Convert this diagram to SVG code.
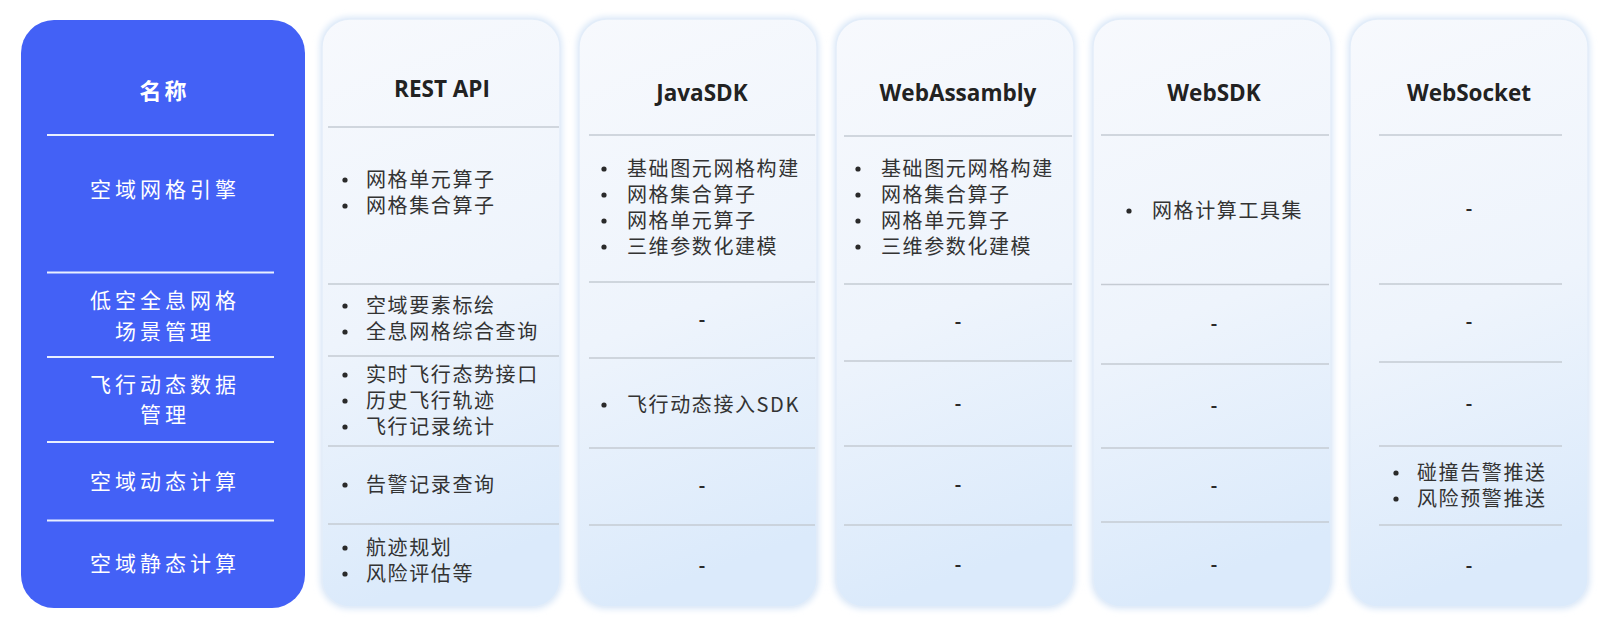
<svg xmlns="http://www.w3.org/2000/svg" width="1620" height="623" viewBox="0 0 1620 623">
<style>
.bg{fill:#ffffff}
.blue{fill:#4361f6}
.panel{fill:url(#pg);stroke:#e3edf9;stroke-width:1.5}
.glow{fill:#d9e7f8;filter:url(#blur)}
.wl{stroke:#e9efff;stroke-width:2.2}
.gl{stroke:#c5cbd3;stroke-width:1.6}
.name{font-family:"Noto Sans CJK SC","Noto Sans",sans-serif;font-size:21px;fill:#ffffff;letter-spacing:4px;text-anchor:middle}
.nameh{font-family:"Noto Sans CJK SC","Noto Sans",sans-serif;font-size:22px;font-weight:bold;fill:#ffffff;letter-spacing:3px;text-anchor:middle}
.hd{font-family:"Open Sans","Liberation Sans",sans-serif;font-size:22.5px;font-weight:bold;fill:#222222;text-anchor:middle}
.tx{font-family:"Noto Sans CJK SC","Noto Sans",sans-serif;font-size:20px;fill:#333333;letter-spacing:1.6px}
.dash{font-family:"Open Sans","Liberation Sans",sans-serif;font-size:20px;font-weight:600;fill:#2a2a2a;text-anchor:middle}
.dot{fill:#2a2a2a}
</style>
<defs>
<linearGradient id="pg" x1="0" y1="0" x2="0.15" y2="1">
<stop offset="0" stop-color="#f7f9fd"/>
<stop offset="0.55" stop-color="#eef4fc"/>
<stop offset="1" stop-color="#dbeafb"/>
</linearGradient>
<filter id="blur" x="-10%" y="-10%" width="120%" height="120%">
<feGaussianBlur stdDeviation="3"/>
</filter>
</defs>
<rect class="bg" x="0" y="0" width="1620" height="623"/>

<g id="col-name">
<rect class="blue" x="21" y="20" width="284" height="588" rx="33"/>
<line class="wl" x1="47" y1="135" x2="274" y2="135"/>
<line class="wl" x1="47" y1="272.5" x2="274" y2="272.5"/>
<line class="wl" x1="47" y1="357" x2="274" y2="357"/>
<line class="wl" x1="47" y1="442" x2="274" y2="442"/>
<line class="wl" x1="47" y1="520.5" x2="274" y2="520.5"/>
<text class="nameh" x="164.5" y="99">名称</text>
<text class="name" x="165" y="197">空域网格引擎</text>
<text class="name" x="165" y="308">低空全息网格</text>
<text class="name" x="165" y="339">场景管理</text>
<text class="name" x="165" y="392">飞行动态数据</text>
<text class="name" x="165" y="422">管理</text>
<text class="name" x="165" y="489">空域动态计算</text>
<text class="name" x="165" y="571">空域静态计算</text>
</g>

<g id="col-rest">
<rect class="glow" x="320" y="17" width="242" height="592" rx="29"/>
<rect class="panel" x="322" y="19" width="238" height="588" rx="28"/>
<text class="hd" x="442" y="97">REST API</text>
<line class="gl" x1="328" y1="127" x2="559" y2="127"/>
<line class="gl" x1="328" y1="284" x2="559" y2="284"/>
<line class="gl" x1="328" y1="356" x2="559" y2="356"/>
<line class="gl" x1="328" y1="446" x2="559" y2="446"/>
<line class="gl" x1="328" y1="524" x2="559" y2="524"/>
<circle class="dot" cx="345" cy="180" r="2.6"/><text class="tx" x="366" y="187">网格单元算子</text>
<circle class="dot" cx="345" cy="206" r="2.6"/><text class="tx" x="366" y="213">网格集合算子</text>
<circle class="dot" cx="345" cy="306" r="2.6"/><text class="tx" x="366" y="313">空域要素标绘</text>
<circle class="dot" cx="345" cy="332" r="2.6"/><text class="tx" x="366" y="339">全息网格综合查询</text>
<circle class="dot" cx="345" cy="375" r="2.6"/><text class="tx" x="366" y="382">实时飞行态势接口</text>
<circle class="dot" cx="345" cy="401" r="2.6"/><text class="tx" x="366" y="408">历史飞行轨迹</text>
<circle class="dot" cx="345" cy="427" r="2.6"/><text class="tx" x="366" y="434">飞行记录统计</text>
<circle class="dot" cx="345" cy="485" r="2.6"/><text class="tx" x="366" y="492">告警记录查询</text>
<circle class="dot" cx="345" cy="548" r="2.6"/><text class="tx" x="366" y="555">航迹规划</text>
<circle class="dot" cx="345" cy="574" r="2.6"/><text class="tx" x="366" y="581">风险评估等</text>
</g>

<g id="col-javasdk">
<rect class="glow" x="577" y="17" width="242" height="592" rx="29"/>
<rect class="panel" x="579" y="19" width="238" height="588" rx="28"/>
<text class="hd" x="702" y="101">JavaSDK</text>
<line class="gl" x1="589" y1="135" x2="815" y2="135"/>
<line class="gl" x1="589" y1="282" x2="815" y2="282"/>
<line class="gl" x1="589" y1="358" x2="815" y2="358"/>
<line class="gl" x1="589" y1="448" x2="815" y2="448"/>
<line class="gl" x1="589" y1="525" x2="815" y2="525"/>
<circle class="dot" cx="604" cy="169" r="2.6"/><text class="tx" x="627" y="176">基础图元网格构建</text>
<circle class="dot" cx="604" cy="195" r="2.6"/><text class="tx" x="627" y="202">网格集合算子</text>
<circle class="dot" cx="604" cy="221" r="2.6"/><text class="tx" x="627" y="228">网格单元算子</text>
<circle class="dot" cx="604" cy="247" r="2.6"/><text class="tx" x="627" y="254">三维参数化建模</text>
<text class="dash" x="702" y="326">-</text>
<circle class="dot" cx="604" cy="405" r="2.6"/><text class="tx" x="627" y="412">飞行动态接入SDK</text>
<text class="dash" x="702" y="492">-</text>
<text class="dash" x="702" y="572">-</text>
</g>

<g id="col-webassambly">
<rect class="glow" x="834" y="17" width="242" height="592" rx="29"/>
<rect class="panel" x="836" y="19" width="238" height="588" rx="28"/>
<text class="hd" x="958" y="101">WebAssambly</text>
<line class="gl" x1="844" y1="136" x2="1072" y2="136"/>
<line class="gl" x1="844" y1="284" x2="1072" y2="284"/>
<line class="gl" x1="844" y1="361" x2="1072" y2="361"/>
<line class="gl" x1="844" y1="446" x2="1072" y2="446"/>
<line class="gl" x1="844" y1="525" x2="1072" y2="525"/>
<circle class="dot" cx="858" cy="169" r="2.6"/><text class="tx" x="881" y="176">基础图元网格构建</text>
<circle class="dot" cx="858" cy="195" r="2.6"/><text class="tx" x="881" y="202">网格集合算子</text>
<circle class="dot" cx="858" cy="221" r="2.6"/><text class="tx" x="881" y="228">网格单元算子</text>
<circle class="dot" cx="858" cy="247" r="2.6"/><text class="tx" x="881" y="254">三维参数化建模</text>
<text class="dash" x="958" y="328">-</text>
<text class="dash" x="958" y="410">-</text>
<text class="dash" x="958" y="491">-</text>
<text class="dash" x="958" y="571">-</text>
</g>

<g id="col-websdk">
<rect class="glow" x="1091" y="17" width="242" height="592" rx="29"/>
<rect class="panel" x="1093" y="19" width="238" height="588" rx="28"/>
<text class="hd" x="1214" y="101">WebSDK</text>
<line class="gl" x1="1101" y1="135" x2="1329" y2="135"/>
<line class="gl" x1="1101" y1="284.5" x2="1329" y2="284.5"/>
<line class="gl" x1="1101" y1="364" x2="1329" y2="364"/>
<line class="gl" x1="1101" y1="448" x2="1329" y2="448"/>
<line class="gl" x1="1101" y1="522" x2="1329" y2="522"/>
<circle class="dot" cx="1129" cy="211" r="2.6"/><text class="tx" x="1152" y="218">网格计算工具集</text>
<text class="dash" x="1214" y="330">-</text>
<text class="dash" x="1214" y="412">-</text>
<text class="dash" x="1214" y="492">-</text>
<text class="dash" x="1214" y="571">-</text>
</g>

<g id="col-websocket">
<rect class="glow" x="1348" y="17" width="242" height="592" rx="29"/>
<rect class="panel" x="1350" y="19" width="238" height="588" rx="28"/>
<text class="hd" x="1469" y="101">WebSocket</text>
<line class="gl" x1="1379" y1="135" x2="1562" y2="135"/>
<line class="gl" x1="1379" y1="284" x2="1562" y2="284"/>
<line class="gl" x1="1379" y1="362" x2="1562" y2="362"/>
<line class="gl" x1="1379" y1="446" x2="1562" y2="446"/>
<line class="gl" x1="1379" y1="525" x2="1562" y2="525"/>
<text class="dash" x="1469" y="215">-</text>
<text class="dash" x="1469" y="328">-</text>
<text class="dash" x="1469" y="410">-</text>
<circle class="dot" cx="1396" cy="473" r="2.6"/><text class="tx" x="1417" y="480">碰撞告警推送</text>
<circle class="dot" cx="1396" cy="499" r="2.6"/><text class="tx" x="1417" y="506">风险预警推送</text>
<text class="dash" x="1469" y="572">-</text>
</g>

<g id="connectors"></g>
</svg>
